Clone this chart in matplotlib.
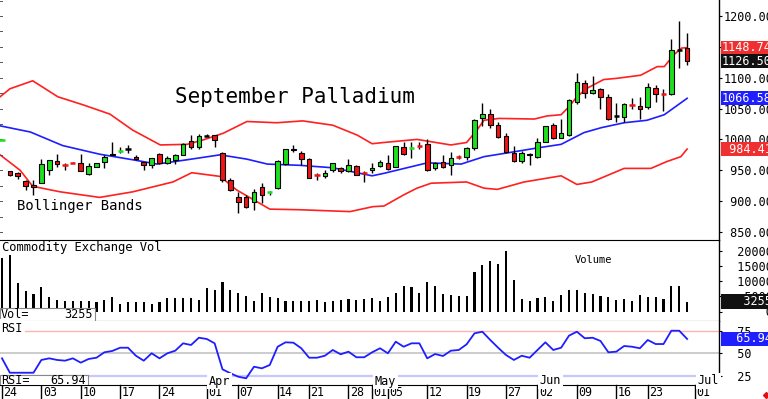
import matplotlib
matplotlib.use("Agg")
import matplotlib.pyplot as plt
from matplotlib.patches import Rectangle
from matplotlib.transforms import blended_transform_factory as blend

# daily OHLC, Feb 24 .. Jun 30 (trading days)
opens = [999, 948, 946, 933, 926, 930, 951, 965, 959, 962,
         961, 944, 956, 964, 977, 981, 984, 972, 964, 958,
         977, 961, 967, 975, 997, 988, 1006, 1007, 978, 934,
         907, 907, 899, 923, 914, 921, 960, 985, 978, 968,
         942, 940, 951, 954, 949, 957, 946, 950, 957, 961,
         956, 988, 986, 990, 992, 953, 963, 958, 972, 971,
         986, 1034, 1041, 1023, 1005, 978, 965, 977, 972, 996,
         1024, 1003, 1007, 1061, 1091, 1075, 1081, 1069, 1038, 1036,
         1057, 1054, 1052, 1083, 1074, 1073, 1145, 1148]
highs = [999, 949, 947, 935, 934, 968, 966, 976, 962, 963,
         976, 962, 962, 975, 996, 987, 991, 974, 964, 970,
         978, 973, 976, 994, 1007, 1008, 1009, 1007, 980, 937,
         915, 910, 919, 929, 917, 967, 984, 991, 982, 970,
         945, 950, 961, 956, 969, 958, 948, 961, 967, 974,
         990, 996, 996, 996, 1000, 964, 975, 980, 974, 988,
         1033, 1059, 1049, 1029, 1010, 990, 981, 978, 1002, 1022,
         1027, 1033, 1065, 1108, 1096, 1103, 1084, 1074, 1059, 1059,
         1067, 1069, 1092, 1088, 1081, 1162, 1192, 1172]
lows = [999, 941, 936, 918, 910, 929, 943, 955, 950, 961,
        949, 942, 955, 953, 975, 978, 978, 967, 951, 953,
        960, 960, 960, 974, 984, 985, 1005, 987, 931, 916,
        880, 889, 885, 897, 910, 919, 958, 980, 959, 937,
        935, 937, 947, 946, 947, 942, 931, 945, 956, 950,
        955, 975, 970, 985, 948, 950, 954, 943, 968, 967,
        983, 1021, 1018, 1002, 978, 963, 962, 958, 970, 995,
        1000, 1002, 1005, 1058, 1067, 1074, 1049, 1031, 1029, 1029,
        1050, 1033, 1049, 1061, 1046, 1072, 1115, 1120]
closes = [999.5, 942, 940, 925, 923, 960, 966, 960, 958.5, 961,
          949, 957, 961, 972, 975, 981.5, 984, 968, 958, 970,
          961, 970, 975, 992, 988, 1006, 1006, 999, 934, 918,
          899, 891, 915, 910, 914.5, 965, 984, 983, 968, 938,
          941, 946, 961, 949, 958, 943, 945, 954, 964, 952,
          989, 976, 986.5, 989, 950, 961, 956, 970, 971, 986,
          1032, 1041, 1023, 1004, 980, 965, 978, 975, 996, 1022,
          1002, 1010, 1064, 1093, 1076, 1080, 1069, 1033, 1038, 1057,
          1056, 1050, 1085, 1074, 1072.5, 1145, 1145, 1126.5]

volume = [17500, 18400, 9400, 6600, 5600, 8000, 4600, 3900, 3500, 3300,
          3300, 3300, 3000, 3800, 4600, 2500, 3000, 3000, 3000, 2300,
          3000, 4400, 4400, 4400, 4400, 3800, 7600, 7100, 9800, 6900,
          6100, 5000, 3600, 6100, 4700, 4400, 3600, 3600, 3600, 3600,
          3800, 3000, 3600, 3800, 4200, 3800, 4200, 4400, 3600, 4700,
          6100, 8500, 8000, 6100, 9800, 8200, 5600, 5500, 5200, 5200,
          12900, 15100, 16400, 15700, 20000, 10200, 4200, 3600, 4400, 4700,
          3600, 5500, 6900, 7100, 6000, 5600, 5000, 4600, 3800, 4200,
          3600, 5500, 4700, 4700, 4200, 8300, 8300, 3255]

rsi = [44.4, 28.4, 28.4, 28.4, 28.4, 42.6, 44.4, 42.6, 41.8, 44.4,
       39.6, 43.7, 45.1, 51.1, 52.6, 56.2, 56.2, 47.3, 41.8, 50.0,
       44.4, 50.0, 52.9, 61.1, 59.2, 67.3, 65.9, 61.1, 32.2, 27.8,
       24.0, 22.2, 35.1, 33.3, 37.0, 57.3, 62.2, 61.8, 55.6, 45.1,
       45.1, 47.3, 53.7, 48.9, 51.8, 45.6, 45.6, 51.1, 55.6, 50.0,
       62.9, 57.3, 61.1, 61.1, 44.4, 49.2, 47.0, 52.9, 53.7, 60.0,
       72.2, 74.0, 64.8, 56.2, 48.1, 42.6, 47.3, 45.1, 53.7, 62.2,
       53.7, 56.2, 69.6, 74.0, 66.7, 67.3, 63.7, 51.1, 51.8, 58.1,
       57.3, 55.6, 64.8, 60.3, 60.3, 75.1, 75.1, 65.94]

# Bollinger band vertices (bar index, price)
upper_x = [-0.25, 1.0, 3.9, 7.1, 10.3, 13.7, 16.6, 20.1, 23.5, 25.5, 28.1, 31.1, 34.9,
           38.2, 42.0, 45.1, 47.0, 48.5, 52.7, 57.0, 59.0, 60.3, 61.2, 63.1, 67.6,
           69.2, 71.0, 72.0, 73.0, 74.3, 76.4, 78.1, 81.1, 83.2, 84.1, 85.3, 86.3, 87]
upper = [1069, 1082, 1095, 1069, 1056, 1041, 1015, 991, 992, 999, 1010, 1029, 1027,
         1030, 1023, 1007, 993, 995, 1000, 991, 995, 1015, 1031, 1034, 1033,
         1038, 1040, 1053, 1069, 1083, 1097, 1099, 1104, 1118, 1118, 1137, 1148, 1148.74]
mid_x = [-0.25, 3.6, 7.7, 12.4, 16.6, 19.7, 23.5, 27.7, 31.1, 33.7, 37.8, 42.0, 47.0,
         48.5, 54.0, 58.3, 61.2, 64.6, 67.9, 71.0, 73.9, 76.1, 79.0, 81.9, 84.1, 87]
mid = [1022, 1012, 990, 976, 967, 960, 967, 975, 968, 960, 958, 954, 941,
       945, 962, 960, 972, 979, 986, 992, 1011, 1019, 1027, 1031, 1040, 1066.58]
lower_x = [-0.25, 2.3, 3.9, 7.4, 12.4, 16.6, 21.7, 24.1, 27.7, 29.8, 34.0, 37.8, 44.2,
           47.1, 48.5, 51.0, 52.7, 54.5, 59.0, 61.2, 62.9, 66.3, 71.0, 73.0, 74.9,
           79.0, 82.4, 84.4, 86.2, 87]
lower = [975, 950, 924, 915, 906, 915, 931, 946, 940, 918, 887, 886, 883,
         891, 892, 910, 921, 929, 931, 921, 919, 931, 941, 927, 931,
         953, 953, 964, 972, 984.41]

date_idx = [0, 5, 10, 15, 20, 26, 30, 35, 39, 44, 47, 49, 54, 59, 64, 68, 73, 78, 82, 88]
date_lbl = ["24", "03", "10", "17", "24", "01", "07", "14", "21", "28",
            "01", "05", "12", "19", "27", "02", "09", "16", "23", "01"]
month_idx = [26, 47, 68, 88]
month_lbl = ["Apr", "May", "Jun", "Jul"]

MONO = "DejaVu Sans Mono"
GREEN = "#1ee01e"
RED = "#f01414"
BLUE = "#1e1eff"
W, H = 768, 399


def box(x0, y0, x1, y1):
    return [x0 / W, 1 - y1 / H, (x1 - x0) / W, (y1 - y0) / H]


def tag(a, y, s, bg):
    a.text(1 + 3 / 719, y, s, transform=blend(a.transAxes, a.transData),
           ha="left", va="center", color="white", fontsize=8.5, family=MONO,
           bbox=dict(boxstyle="square,pad=0.05", fc=bg, ec="none"),
           zorder=10, clip_on=False)


fig = plt.figure(figsize=(7.68, 3.99), dpi=100)
ax = fig.add_axes(box(0, 0, 719, 240))
axv = fig.add_axes(box(0, 240, 719, 321), sharex=ax)
axr = fig.add_axes(box(0, 321, 719, 385), sharex=ax)

n = len(closes)
x0 = -2 / 7.875
ax.set_xlim(x0, (719 - 2) / 7.875)

# ---- price panel
ax.plot(upper_x, upper, color="#ff2020", lw=1.2, zorder=2)
ax.plot(lower_x, lower, color="#ff2020", lw=1.2, zorder=2)
ax.plot(mid_x, mid, color=BLUE, lw=1.2, zorder=2)
for i in range(n):
    o, h, l, c = opens[i], highs[i], lows[i], closes[i]
    ax.vlines(i, l, h, color="black", lw=1, zorder=3)
    if abs(c - o) < 2:
        col = GREEN if c > o else (RED if c < o else "black")
        ax.hlines((o + c) / 2, i - 0.33, i + 0.33, color=col, lw=1.8, zorder=4)
    else:
        col = GREEN if c > o else RED
        ax.add_patch(Rectangle((i - 0.29, min(o, c)), 0.58, abs(c - o),
                               fc=col, ec="black", lw=0.8, zorder=4))
ax.set_ylim(1200 - 224 / 0.617, 1200 + 16 / 0.617)
ax.yaxis.tick_right()
ax.set_yticks(range(850, 1201, 50))
ax.set_yticklabels(["%7.2f" % v for v in range(850, 1201, 50)], family=MONO, fontsize=8.5)
ax.tick_params(axis="y", length=2, pad=1)
ax.tick_params(axis="x", bottom=False, labelbottom=False)
for v in range(850, 1226, 25):
    ax.plot([0, 2 / 719], [v, v], transform=blend(ax.transAxes, ax.transData),
            color="#555555", lw=0.7, clip_on=False)
ax.text(175 / 719, 1 - 97 / 240, "September Palladium", transform=ax.transAxes,
        family=MONO, fontsize=15, va="center", ha="left")
ax.text(17 / 719, 1 - 206 / 240, "Bollinger Bands", transform=ax.transAxes,
        family=MONO, fontsize=10, va="center", ha="left")
tag(ax, upper[-1], "%7.2f" % upper[-1], "#f03030")
tag(ax, closes[-1], "%7.2f" % closes[-1], "#111111")
tag(ax, mid[-1], "%7.2f" % mid[-1], BLUE)
tag(ax, lower[-1], "%7.2f" % lower[-1], "#f03030")

# ---- volume panel
axv.bar(range(n), volume, width=0.27, color="black", zorder=3)
axv.set_ylim(-(321 - 311.5) / 3.05 * 1000, (311.5 - 240) / 3.05 * 1000)
axv.yaxis.tick_right()
vt = [0, 5000, 10000, 15000, 20000]
axv.set_yticks(vt)
axv.set_yticklabels(["%7d" % v for v in vt], family=MONO, fontsize=8.5)
axv.tick_params(axis="y", length=2, pad=1)
axv.tick_params(axis="x", bottom=False, labelbottom=False)
axv.text(2 / 719, 1 - 8 / 81, "Commodity Exchange Vol", transform=axv.transAxes,
         family=MONO, fontsize=8.7, va="center", ha="left")
axv.text(575 / 719, 1 - 20 / 81, "Volume", transform=axv.transAxes,
         family=MONO, fontsize=7.5, va="center", ha="left")
axv.add_patch(Rectangle((0, 0), 95 / 719, 13.3 / 81, transform=axv.transAxes,
                        fc="white", ec="#888888", lw=0.8, zorder=5))
axv.text(1 / 719, 6.5 / 81, "Vol=", transform=axv.transAxes, family=MONO,
         fontsize=8.5, va="center", ha="left", zorder=6)
axv.text(93 / 719, 6.5 / 81, "%d" % volume[-1], transform=axv.transAxes, family=MONO,
         fontsize=8.5, va="center", ha="right", zorder=6)
tag(axv, volume[-1], "%7d" % volume[-1], "#111111")

# ---- RSI panel
axr.axhline(75, color="#ffb4b4", lw=1, zorder=1)
axr.axhline(50, color="#c4c4c4", lw=1.2, zorder=1)
axr.axhline(25, color="#c8c8ff", lw=1.6, zorder=1)
axr.plot(range(n), rsi, color=BLUE, lw=1.3, zorder=3)
axr.set_ylim(50 - 31.7 / 0.9, 50 + 32.3 / 0.9)
axr.yaxis.tick_right()
axr.set_yticks([25, 50, 75])
axr.set_yticklabels(["  25", "  50", "  75"], family=MONO, fontsize=8.5)
axr.tick_params(axis="y", length=2, pad=1)
axr.tick_params(axis="x", bottom=False, labelbottom=False)
axr.text(1 / 719, 1 - 7 / 64, "RSI", transform=axr.transAxes, family=MONO,
         fontsize=8.5, va="center", ha="left", zorder=6,
         bbox=dict(boxstyle="square,pad=0.2", fc="white", ec="none"))
axr.add_patch(Rectangle((0, 0), 88 / 719, 10 / 64, transform=axr.transAxes,
                        fc="white", ec="#888888", lw=0.8, zorder=5))
axr.text(1 / 719, 5 / 64, "RSI=", transform=axr.transAxes, family=MONO,
         fontsize=8.5, va="center", ha="left", zorder=6)
axr.text(86 / 719, 5 / 64, "%.2f" % rsi[-1], transform=axr.transAxes, family=MONO,
         fontsize=8.5, va="center", ha="right", zorder=6)
tag(axr, rsi[-1], "  %.2f" % rsi[-1], BLUE)
tb = blend(axr.transData, axr.transAxes)
for i, s in zip(month_idx, month_lbl):
    axr.text(i + 0.3, 4 / 64, s, transform=tb, family=MONO, fontsize=8.5,
             va="center", ha="left", zorder=6,
             bbox=dict(boxstyle="square,pad=0.15", fc="white", ec="none"))

# date axis below the RSI panel
for i, s in zip(date_idx, date_lbl):
    axr.plot([i, i], [0, -14 / 64], transform=tb, color="black", lw=1, clip_on=False)
    axr.text(i + 1.5 / 7.875, -7.5 / 64, s, transform=tb, family=MONO, fontsize=8.4,
             va="center", ha="left", clip_on=False)
axr.plot([1 + 47 / 719], [-10 / 64], transform=axr.transAxes, marker="D", ms=3,
         color="#e01010", clip_on=False)

for a in (ax, axv, axr):
    for side in ("left", "top", "bottom"):
        a.spines[side].set_visible(False)
    a.spines["right"].set_linewidth(1)
axv.spines["top"].set_visible(True)
axv.spines["bottom"].set_visible(True)
axr.spines["bottom"].set_visible(True)
ax.spines["bottom"].set_visible(True)
ax.spines["bottom"].set_color("#cccccc")

fig.savefig("out.png", dpi=100)
